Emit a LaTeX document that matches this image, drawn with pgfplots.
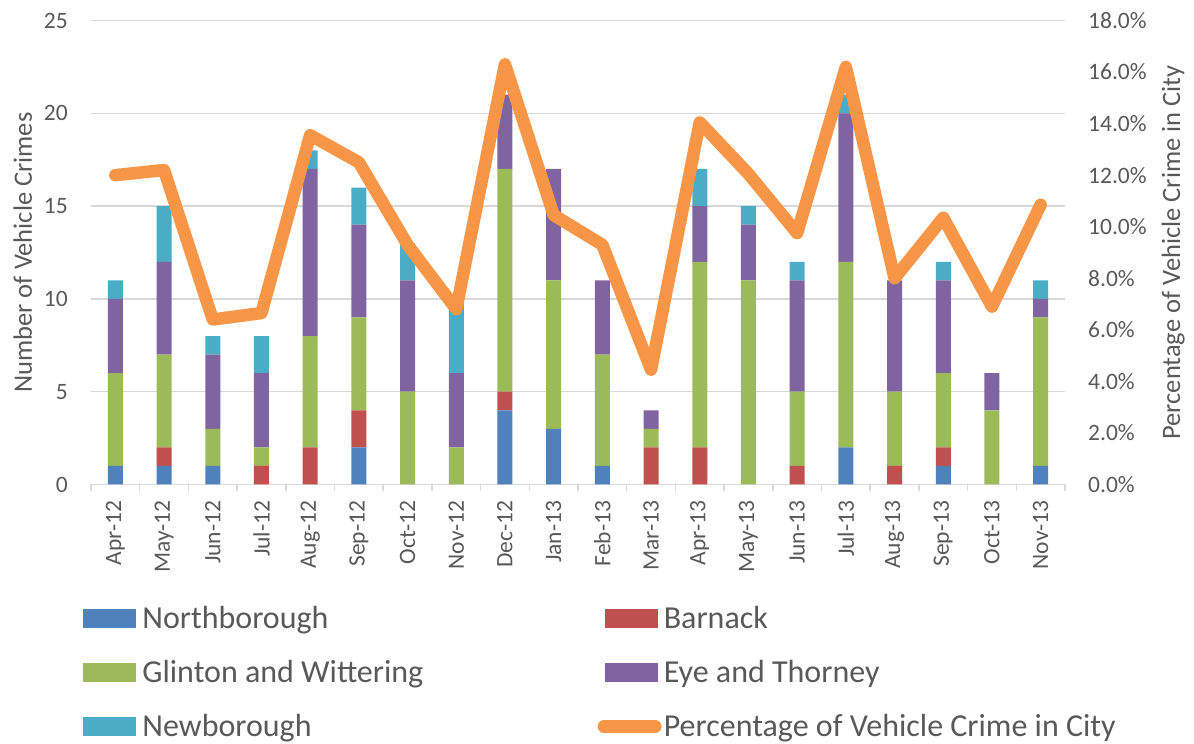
\documentclass[border=0pt]{standalone}
\usepackage{fontspec}
\setmainfont{Carlito}
\usepackage{pgfplots}
\usepackage{pgfplotstable}
\pgfplotsset{compat=1.18}
\definecolor{cN}{HTML}{4F81BD}
\definecolor{cB}{HTML}{C0504D}
\definecolor{cG}{HTML}{9BBB59}
\definecolor{cE}{HTML}{8064A2}
\definecolor{cNb}{HTML}{4BACC6}
\definecolor{cP}{HTML}{F79646}
\definecolor{txt}{HTML}{595959}
\definecolor{grd}{HTML}{D9D9D9}
\pgfplotstableread{
x N B G E Nb P
0 1 0 5 4 1 12.0
1 1 1 5 5 3 12.2
2 1 0 2 4 1 6.4
3 0 1 1 4 2 6.65
4 0 2 6 9 1 13.55
5 2 2 5 5 2 12.5
6 0 0 5 6 2 9.3
7 0 0 2 4 4 6.8
8 4 1 12 4 0 16.3
9 3 0 8 6 0 10.45
10 1 0 6 4 0 9.3
11 0 2 1 1 0 4.45
12 0 2 10 3 2 14.05
13 0 0 11 3 1 12.05
14 0 1 4 6 1 9.75
15 2 0 10 8 1 16.2
16 0 1 4 6 0 8.0
17 1 1 4 5 1 10.35
18 0 0 4 2 0 6.9
19 1 0 8 1 1 10.85
}\data
\newcommand{\tickfont}{\fontsize{23.5}{28}\selectfont}
\newcommand{\titlefont}{\fontsize{26.5}{32}\selectfont}
\newcommand{\legfont}{\fontsize{32}{38}\selectfont}
\begin{document}
\begin{tikzpicture}
\path[use as bounding box] (0,0) rectangle (1194pt,744pt);
\begin{axis}[
  at={(91pt,259.5pt)}, anchor=south west,
  scale only axis, width=974pt, height=464pt,
  xmin=-0.5, xmax=19.5, ymin=0, ymax=25,
  ybar stacked, bar width=15pt,
  axis x line*=bottom, axis y line*=left,
  x axis line style={grd, line width=1.5pt, -},
  y axis line style={draw=none},
  xtick={0,...,19},
  xticklabels={Apr-12,May-12,Jun-12,Jul-12,Aug-12,Sep-12,Oct-12,Nov-12,Dec-12,Jan-13,Feb-13,Mar-13,Apr-13,May-13,Jun-13,Jul-13,Aug-13,Sep-13,Oct-13,Nov-13},
  major x tick style={draw=none},
  minor xtick={-0.5,0.5,...,19.5},
  minor x tick style={grd, line width=1.5pt},
  minor tick length=7pt,
  major tick length=0pt,
  tick align=outside,
  ytick={0,5,...,25},
  major y tick style={draw=none},
  ymajorgrids, grid style={grd, line width=1.5pt},
  xticklabel style={rotate=90, anchor=east, inner sep=0pt, font=\tickfont, text=txt},
  xticklabel shift=16pt,
  yticklabel style={anchor=east, inner sep=0pt, font=\tickfont, text=txt},
  yticklabel shift=23pt,
  /pgf/number format/assume math mode=true,
  ylabel={Number of Vehicle Crimes},
  ylabel style={at={(axis description cs:-0.06057,0.5)}, anchor=base, inner sep=0pt, font=\titlefont, text=txt},
]
\addplot[fill=cN, draw=none] table[x=x,y=N]{\data};
\addplot[fill=cB, draw=none] table[x=x,y=B]{\data};
\addplot[fill=cG, draw=none] table[x=x,y=G]{\data};
\addplot[fill=cE, draw=none] table[x=x,y=E]{\data};
\addplot[fill=cNb, draw=none] table[x=x,y=Nb]{\data};
\end{axis}
\begin{axis}[
  at={(91pt,259.5pt)}, anchor=south west,
  scale only axis, width=974pt, height=464pt,
  xmin=-0.5, xmax=19.5, ymin=0, ymax=18,
  axis x line=none, xtick=\empty,
  axis y line*=right,
  y axis line style={draw=none},
  ytick={0,2,...,18},
  major tick length=0pt,
  major y tick style={draw=none},
  yticklabel={\pgfmathprintnumber[fixed,fixed zerofill,precision=1]{\tick}\%},
  yticklabel style={anchor=west, inner sep=0pt, font=\tickfont, text=txt},
  yticklabel shift=23pt,
  /pgf/number format/assume math mode=true,
  ylabel={Percentage of Vehicle Crime in City},
  ylabel style={at={(axis description cs:1.11807,0.5)}, anchor=base, inner sep=0pt, font=\titlefont, text=txt},
  legend columns=2,
  legend cell align=left,
  legend style={at={(axis description cs:0,0)}, anchor=north west, xshift=-8pt, yshift=-107pt,
    draw=none, fill=none, inner sep=0pt, outer sep=0pt, column sep=0pt, row sep=0pt,
    font=\legfont, text=txt,
    nodes={inner sep=0pt, outer sep=0pt, text height=20.6pt, text depth=0pt, minimum height=54pt}},
]
\addlegendimage{legend image code/.code={\fill[cN] (0pt,-9pt) rectangle (52pt,9pt);}}
\addlegendentry{\makebox[470pt][l]{\hspace*{7pt}Northborough}}
\addlegendimage{legend image code/.code={\fill[cB] (0pt,-9pt) rectangle (52pt,9pt);}}
\addlegendentry{\hspace*{6pt}Barnack}
\addlegendimage{legend image code/.code={\fill[cG] (0pt,-9pt) rectangle (52pt,9pt);}}
\addlegendentry{\makebox[470pt][l]{\hspace*{7pt}Glinton and Wittering}}
\addlegendimage{legend image code/.code={\fill[cE] (0pt,-9pt) rectangle (52pt,9pt);}}
\addlegendentry{\hspace*{6pt}Eye and Thorney}
\addlegendimage{legend image code/.code={\fill[cNb] (0pt,-9pt) rectangle (52pt,9pt);}}
\addlegendentry{\makebox[470pt][l]{\hspace*{7pt}Newborough}}
\addplot[cP, line width=12.5pt, line join=round, line cap=round,
  legend image code/.code={\path[draw=none,fill=none] (0pt,-9pt) rectangle (52pt,9pt); \draw[overlay, cP, line width=13pt, line cap=round] (-1.5pt,0pt) -- (49.5pt,0pt);}]
  table[x=x,y=P]{\data};
\addlegendentry{\hspace*{6pt}Percentage of Vehicle Crime in City}
\end{axis}
\end{tikzpicture}
\end{document}
